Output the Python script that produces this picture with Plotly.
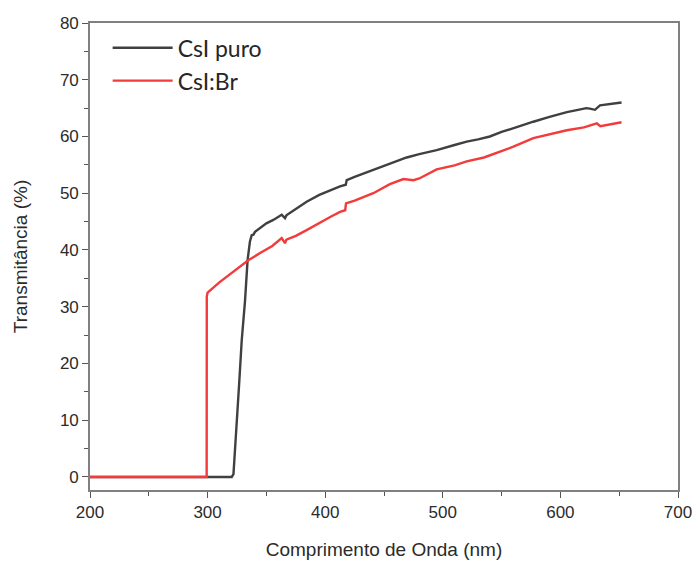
import plotly.graph_objects as go

# CsI puro
wl_puro = [200, 250, 300, 318, 320.5, 322, 323, 325, 327, 329, 331.8, 334, 336, 337.5, 339, 340.3,
           345, 350, 355.9, 360, 363, 365.8, 367, 375, 384.2, 395, 405, 412.6, 417.5, 418.3, 425,
           440.9, 455, 469.3, 480, 494.8, 510, 520.3, 530, 540, 550, 560, 577, 590, 605.5, 615,
           622, 625, 629.4, 633.7, 640, 652]
t_puro = [0, 0, 0, 0, 0, 0.5, 3.5, 10, 17, 24, 31, 38.2, 41.5, 42.6, 42.7, 43.2,
          44.0, 44.7, 45.3, 45.8, 46.2, 45.6, 46.1, 47.2, 48.5, 49.7, 50.6, 51.2, 51.5, 52.3, 52.9,
          54.1, 55.2, 56.3, 56.9, 57.6, 58.5, 59.1, 59.5, 60.0, 60.8, 61.5, 62.6, 63.4, 64.3, 64.7,
          65.0, 64.9, 64.7, 65.5, 65.7, 66.0]

# CsI:Br
wl_br = [200, 250, 299.2, 299.3, 300, 310, 321.9, 331.8, 334.6, 345, 355, 363, 365.8, 367, 375,
         384.2, 395, 405, 412.6, 417, 417.7, 425, 440.9, 455, 466.5, 475, 480, 494.8, 510, 520.3,
         535, 548.6, 560, 577, 590, 605.5, 620, 627.8, 631, 634, 640, 652]
t_br = [0, 0, 0, 31.8, 32.5, 34.3, 36.2, 37.8, 38.2, 39.5, 40.7, 42.1, 41.2, 41.8, 42.5,
        43.5, 44.8, 45.9, 46.7, 47.0, 48.2, 48.7, 50.0, 51.6, 52.5, 52.3, 52.6, 54.2, 54.9, 55.6,
        56.3, 57.3, 58.2, 59.7, 60.4, 61.1, 61.6, 62.0, 62.3, 61.8, 62.0, 62.5]

x_ticks = [200, 300, 400, 500, 600, 700]
y_ticks = [0, 10, 20, 30, 40, 50, 60, 70, 80]

FONT = "Liberation Sans, Arial, sans-serif"

fig = go.Figure()
fig.add_trace(go.Scatter(x=wl_puro, y=t_puro, mode="lines", name="CsI puro",
                         line=dict(color="#404040", width=2.4)))
fig.add_trace(go.Scatter(x=wl_br, y=t_br, mode="lines", name="CsI:Br",
                         line=dict(color="#f23b3b", width=2.4)))

axis_common = dict(showgrid=False, zeroline=False, showline=True, linecolor="#808080",
                   linewidth=1.6, mirror=True, ticks="outside", ticklen=6, tickwidth=1.3,
                   tickcolor="#555555", automargin=False, ticklabeloverflow="allow",
                   tickfont=dict(family=FONT, size=17, color="#2b2b2b"))

fig.update_xaxes(range=[200, 700], tickvals=x_ticks,
                 minor=dict(dtick=50, ticks="outside", ticklen=4, tickcolor="#555555", tickwidth=1.3),
                 title=dict(text="Comprimento de Onda (nm)",
                            font=dict(family=FONT, size=19, color="#2b2b2b"),
                            standoff=21),
                 **axis_common)
fig.update_yaxes(range=[-2.3, 80], tickvals=y_ticks,
                 minor=dict(dtick=5, ticks="outside", ticklen=4, tickcolor="#555555", tickwidth=1.3),
                 title=dict(text="Transmitância (%)",
                            font=dict(family=FONT, size=19, color="#2b2b2b"),
                            standoff=27),
                 **axis_common)

fig.update_layout(
    width=697, height=561,
    margin=dict(l=90, r=19, t=23, b=71),
    plot_bgcolor="white", paper_bgcolor="white",
    showlegend=True,
    legend=dict(x=0.03, y=0.993, xanchor="left", yanchor="top",
                bgcolor="rgba(0,0,0,0)",
                font=dict(family="Lato, Carlito, Calibri", size=23, color="#262626"),
                tracegroupgap=2, itemwidth=60),
)

# remove the default page margin so the figure fills the window exactly
fig.write_html("out.html",
               config={"displayModeBar": False},
               post_script="document.body.style.margin='0px';document.body.style.overflow='hidden';")
